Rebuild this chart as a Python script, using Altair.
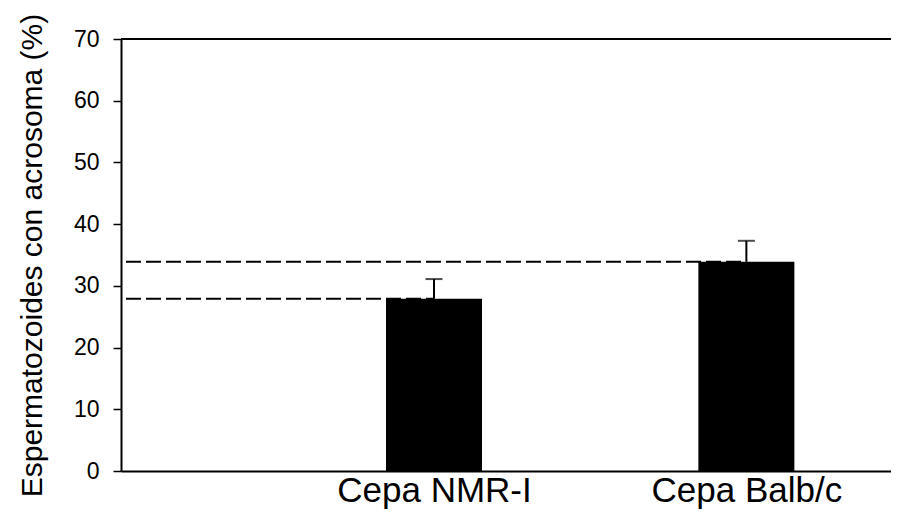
import altair as alt
import pandas as pd

# Data
strains = ["Cepa NMR-I", "Cepa Balb/c"]
positions = [1, 2]
means = [27.9, 33.9]
upper = [31.1, 37.3]

x_domain = [0.014, 2.447]
y_domain = [0, 70]
y_ticks = [0, 10, 20, 30, 40, 50, 60, 70]
y_title = "Espermatozoides con acrosoma (%)"

df = pd.DataFrame({
    "strain": strains,
    "pos": positions,
    "mean": means,
    "upper": upper,
    "start": [x_domain[0]] * len(strains),
})

label_expr = " : ".join(
    [f"datum.value == {p} ? '{s}'" for p, s in zip(positions, strains)]
) + " : ''"

FONT = "Liberation Sans"
W, H = 770, 432

x_scale = alt.Scale(domain=x_domain, nice=False, zero=False)
y_scale = alt.Scale(domain=y_domain, nice=False)

x_axis = alt.Axis(
    values=positions, labelExpr=label_expr, ticks=False, grid=False, title=None,
    labelFont=FONT, labelFontSize=35, labelColor="black", labelPadding=30,
    labelBaseline="alphabetic", labelFlush=False, labelOverlap=False, labelLimit=1000,
    domainColor="black", domainWidth=2,
)
y_axis = alt.Axis(
    values=y_ticks, grid=False, title=y_title,
    titleFont=FONT, titleFontSize=30, titleFontWeight="normal", titleColor="black",
    titleX=-80, titleY=H / 2, titleBaseline="alphabetic", titleAngle=-90, titleLimit=1000,
    labelFont=FONT, labelFontSize=23, labelColor="black", labelPadding=14,
    tickSize=8, tickWidth=1.5, tickColor="black",
    domainColor="black", domainWidth=2,
)

def X(field):
    return alt.X(field, type="quantitative", scale=x_scale, axis=x_axis)

def Y(field):
    return alt.Y(field, type="quantitative", scale=y_scale, axis=y_axis)

base = alt.Chart(df)

dashed = base.mark_rule(strokeDash=[15, 5], strokeWidth=2, color="black").encode(
    x=X("start"), x2="pos:Q", y=Y("mean")
)
bars = base.mark_bar(size=96, color="black").encode(x=X("pos"), y=Y("mean"))
stems = base.mark_rule(strokeWidth=2, color="black").encode(
    x=X("pos"), y=Y("mean"), y2="upper:Q"
)
caps = base.mark_tick(orient="horizontal", size=17, thickness=2, color="black").encode(
    x=X("pos"), y=Y("upper")
)
top_line = base.mark_rule(strokeWidth=2, color="black").encode(
    x=alt.value(0), x2=alt.value(W), y=alt.datum(y_domain[1], scale=y_scale)
)

chart = (
    alt.layer(dashed, bars, stems, caps, top_line)
    .properties(
        width=W, height=H,
        autosize=alt.AutoSizeParams(type="none"),
        padding={"left": 113, "top": 31, "right": 0, "bottom": 42},
        background="white",
    )
    .configure_view(stroke=None)
)

chart.save("out.html", embed_options={"renderer": "svg", "actions": False})
